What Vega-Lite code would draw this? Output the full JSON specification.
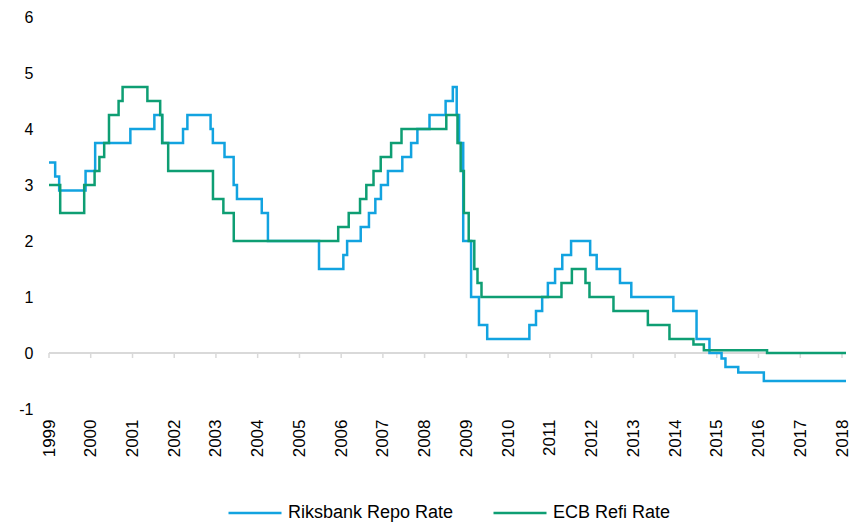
{
  "$schema": "https://vega.github.io/schema/vega-lite/v6.json",
  "autosize": {"type": "none"},
  "width": 797,
  "height": 392,
  "padding": {"left": 49, "top": 17, "right": 18, "bottom": 114},
  "background": "white",
  "config": {
    "view": {"stroke": null},
    "font": "Liberation Sans",
    "axis": {"labelFont": "Liberation Sans", "labelColor": "#000000", "grid": false, "title": null},
    "legend": {"labelFont": "Liberation Sans"}
  },
  "datasets": {
    "rates": [
      {"date": "1999-01-01", "series": "Riksbank Repo Rate", "rate": 3.40},
      {"date": "1999-02-24", "series": "Riksbank Repo Rate", "rate": 3.15},
      {"date": "1999-03-31", "series": "Riksbank Repo Rate", "rate": 2.90},
      {"date": "1999-11-17", "series": "Riksbank Repo Rate", "rate": 3.25},
      {"date": "2000-02-09", "series": "Riksbank Repo Rate", "rate": 3.75},
      {"date": "2000-12-13", "series": "Riksbank Repo Rate", "rate": 4.00},
      {"date": "2001-07-11", "series": "Riksbank Repo Rate", "rate": 4.25},
      {"date": "2001-09-17", "series": "Riksbank Repo Rate", "rate": 3.75},
      {"date": "2002-03-19", "series": "Riksbank Repo Rate", "rate": 4.00},
      {"date": "2002-04-26", "series": "Riksbank Repo Rate", "rate": 4.25},
      {"date": "2002-11-15", "series": "Riksbank Repo Rate", "rate": 4.00},
      {"date": "2002-12-05", "series": "Riksbank Repo Rate", "rate": 3.75},
      {"date": "2003-03-17", "series": "Riksbank Repo Rate", "rate": 3.50},
      {"date": "2003-06-05", "series": "Riksbank Repo Rate", "rate": 3.00},
      {"date": "2003-07-04", "series": "Riksbank Repo Rate", "rate": 2.75},
      {"date": "2004-02-06", "series": "Riksbank Repo Rate", "rate": 2.50},
      {"date": "2004-03-31", "series": "Riksbank Repo Rate", "rate": 2.00},
      {"date": "2005-06-21", "series": "Riksbank Repo Rate", "rate": 1.50},
      {"date": "2006-01-20", "series": "Riksbank Repo Rate", "rate": 1.75},
      {"date": "2006-02-22", "series": "Riksbank Repo Rate", "rate": 2.00},
      {"date": "2006-06-21", "series": "Riksbank Repo Rate", "rate": 2.25},
      {"date": "2006-09-01", "series": "Riksbank Repo Rate", "rate": 2.50},
      {"date": "2006-10-27", "series": "Riksbank Repo Rate", "rate": 2.75},
      {"date": "2006-12-15", "series": "Riksbank Repo Rate", "rate": 3.00},
      {"date": "2007-02-14", "series": "Riksbank Repo Rate", "rate": 3.25},
      {"date": "2007-06-20", "series": "Riksbank Repo Rate", "rate": 3.50},
      {"date": "2007-09-05", "series": "Riksbank Repo Rate", "rate": 3.75},
      {"date": "2007-10-30", "series": "Riksbank Repo Rate", "rate": 4.00},
      {"date": "2008-02-13", "series": "Riksbank Repo Rate", "rate": 4.25},
      {"date": "2008-07-03", "series": "Riksbank Repo Rate", "rate": 4.50},
      {"date": "2008-09-04", "series": "Riksbank Repo Rate", "rate": 4.75},
      {"date": "2008-10-08", "series": "Riksbank Repo Rate", "rate": 4.25},
      {"date": "2008-10-29", "series": "Riksbank Repo Rate", "rate": 3.75},
      {"date": "2008-12-04", "series": "Riksbank Repo Rate", "rate": 2.00},
      {"date": "2009-02-11", "series": "Riksbank Repo Rate", "rate": 1.00},
      {"date": "2009-04-21", "series": "Riksbank Repo Rate", "rate": 0.50},
      {"date": "2009-07-02", "series": "Riksbank Repo Rate", "rate": 0.25},
      {"date": "2010-07-06", "series": "Riksbank Repo Rate", "rate": 0.50},
      {"date": "2010-09-02", "series": "Riksbank Repo Rate", "rate": 0.75},
      {"date": "2010-10-26", "series": "Riksbank Repo Rate", "rate": 1.00},
      {"date": "2010-12-15", "series": "Riksbank Repo Rate", "rate": 1.25},
      {"date": "2011-02-16", "series": "Riksbank Repo Rate", "rate": 1.50},
      {"date": "2011-04-20", "series": "Riksbank Repo Rate", "rate": 1.75},
      {"date": "2011-07-06", "series": "Riksbank Repo Rate", "rate": 2.00},
      {"date": "2011-12-20", "series": "Riksbank Repo Rate", "rate": 1.75},
      {"date": "2012-02-15", "series": "Riksbank Repo Rate", "rate": 1.50},
      {"date": "2012-09-06", "series": "Riksbank Repo Rate", "rate": 1.25},
      {"date": "2012-12-14", "series": "Riksbank Repo Rate", "rate": 1.00},
      {"date": "2013-12-17", "series": "Riksbank Repo Rate", "rate": 0.75},
      {"date": "2014-07-08", "series": "Riksbank Repo Rate", "rate": 0.25},
      {"date": "2014-10-29", "series": "Riksbank Repo Rate", "rate": 0.00},
      {"date": "2015-02-12", "series": "Riksbank Repo Rate", "rate": -0.10},
      {"date": "2015-03-18", "series": "Riksbank Repo Rate", "rate": -0.25},
      {"date": "2015-07-08", "series": "Riksbank Repo Rate", "rate": -0.35},
      {"date": "2016-02-17", "series": "Riksbank Repo Rate", "rate": -0.50},
      {"date": "2018-02-05", "series": "Riksbank Repo Rate", "rate": -0.50},
      {"date": "1999-01-01", "series": "ECB Refi Rate", "rate": 3.00},
      {"date": "1999-04-09", "series": "ECB Refi Rate", "rate": 2.50},
      {"date": "1999-11-05", "series": "ECB Refi Rate", "rate": 3.00},
      {"date": "2000-02-04", "series": "ECB Refi Rate", "rate": 3.25},
      {"date": "2000-03-17", "series": "ECB Refi Rate", "rate": 3.50},
      {"date": "2000-04-28", "series": "ECB Refi Rate", "rate": 3.75},
      {"date": "2000-06-09", "series": "ECB Refi Rate", "rate": 4.25},
      {"date": "2000-09-01", "series": "ECB Refi Rate", "rate": 4.50},
      {"date": "2000-10-06", "series": "ECB Refi Rate", "rate": 4.75},
      {"date": "2001-05-11", "series": "ECB Refi Rate", "rate": 4.50},
      {"date": "2001-08-31", "series": "ECB Refi Rate", "rate": 4.25},
      {"date": "2001-09-18", "series": "ECB Refi Rate", "rate": 3.75},
      {"date": "2001-11-09", "series": "ECB Refi Rate", "rate": 3.25},
      {"date": "2002-12-06", "series": "ECB Refi Rate", "rate": 2.75},
      {"date": "2003-03-07", "series": "ECB Refi Rate", "rate": 2.50},
      {"date": "2003-06-06", "series": "ECB Refi Rate", "rate": 2.00},
      {"date": "2005-12-06", "series": "ECB Refi Rate", "rate": 2.25},
      {"date": "2006-03-08", "series": "ECB Refi Rate", "rate": 2.50},
      {"date": "2006-06-15", "series": "ECB Refi Rate", "rate": 2.75},
      {"date": "2006-08-09", "series": "ECB Refi Rate", "rate": 3.00},
      {"date": "2006-10-11", "series": "ECB Refi Rate", "rate": 3.25},
      {"date": "2006-12-13", "series": "ECB Refi Rate", "rate": 3.50},
      {"date": "2007-03-14", "series": "ECB Refi Rate", "rate": 3.75},
      {"date": "2007-06-13", "series": "ECB Refi Rate", "rate": 4.00},
      {"date": "2008-07-09", "series": "ECB Refi Rate", "rate": 4.25},
      {"date": "2008-10-15", "series": "ECB Refi Rate", "rate": 3.75},
      {"date": "2008-11-12", "series": "ECB Refi Rate", "rate": 3.25},
      {"date": "2008-12-10", "series": "ECB Refi Rate", "rate": 2.50},
      {"date": "2009-01-21", "series": "ECB Refi Rate", "rate": 2.00},
      {"date": "2009-03-11", "series": "ECB Refi Rate", "rate": 1.50},
      {"date": "2009-04-08", "series": "ECB Refi Rate", "rate": 1.25},
      {"date": "2009-05-13", "series": "ECB Refi Rate", "rate": 1.00},
      {"date": "2011-04-13", "series": "ECB Refi Rate", "rate": 1.25},
      {"date": "2011-07-13", "series": "ECB Refi Rate", "rate": 1.50},
      {"date": "2011-11-09", "series": "ECB Refi Rate", "rate": 1.25},
      {"date": "2011-12-14", "series": "ECB Refi Rate", "rate": 1.00},
      {"date": "2012-07-11", "series": "ECB Refi Rate", "rate": 0.75},
      {"date": "2013-05-08", "series": "ECB Refi Rate", "rate": 0.50},
      {"date": "2013-11-13", "series": "ECB Refi Rate", "rate": 0.25},
      {"date": "2014-06-11", "series": "ECB Refi Rate", "rate": 0.15},
      {"date": "2014-09-10", "series": "ECB Refi Rate", "rate": 0.05},
      {"date": "2016-03-16", "series": "ECB Refi Rate", "rate": 0.00},
      {"date": "2018-02-05", "series": "ECB Refi Rate", "rate": 0.00}
    ],
    "years": [
      {"date": "1999-01-01"}, {"date": "2000-01-01"}, {"date": "2001-01-01"}, {"date": "2002-01-01"},
      {"date": "2003-01-01"}, {"date": "2004-01-01"}, {"date": "2005-01-01"}, {"date": "2006-01-01"},
      {"date": "2007-01-01"}, {"date": "2008-01-01"}, {"date": "2009-01-01"}, {"date": "2010-01-01"},
      {"date": "2011-01-01"}, {"date": "2012-01-01"}, {"date": "2013-01-01"}, {"date": "2014-01-01"},
      {"date": "2015-01-01"}, {"date": "2016-01-01"}, {"date": "2017-01-01"}, {"date": "2018-01-01"}
    ]
  },
  "layer": [
    {
      "data": {"name": "years"},
      "mark": {"type": "rule", "color": "#d9d9d9", "strokeWidth": 1.5},
      "encoding": {
        "x": {"field": "date", "type": "temporal"},
        "y": {"datum": 0},
        "y2": {"datum": -0.09}
      }
    },
    {
      "data": {"name": "years"},
      "mark": {"type": "rule", "color": "#d9d9d9", "strokeWidth": 1.5},
      "encoding": {
        "y": {"datum": 0}
      }
    },
    {
      "data": {"name": "rates"},
      "mark": {"type": "line", "interpolate": "step-after", "strokeWidth": 2.5},
      "encoding": {
        "x": {
          "field": "date",
          "type": "temporal",
          "scale": {"type": "utc", "domain": [{"year": 1999, "month": 1, "date": 1, "utc": true}, {"year": 2018, "month": 2, "date": 5, "utc": true}]},
          "axis": {
            "values": [
              {"year": 1999, "month": 1, "date": 1, "utc": true}, {"year": 2000, "month": 1, "date": 1, "utc": true},
              {"year": 2001, "month": 1, "date": 1, "utc": true}, {"year": 2002, "month": 1, "date": 1, "utc": true},
              {"year": 2003, "month": 1, "date": 1, "utc": true}, {"year": 2004, "month": 1, "date": 1, "utc": true},
              {"year": 2005, "month": 1, "date": 1, "utc": true}, {"year": 2006, "month": 1, "date": 1, "utc": true},
              {"year": 2007, "month": 1, "date": 1, "utc": true}, {"year": 2008, "month": 1, "date": 1, "utc": true},
              {"year": 2009, "month": 1, "date": 1, "utc": true}, {"year": 2010, "month": 1, "date": 1, "utc": true},
              {"year": 2011, "month": 1, "date": 1, "utc": true}, {"year": 2012, "month": 1, "date": 1, "utc": true},
              {"year": 2013, "month": 1, "date": 1, "utc": true}, {"year": 2014, "month": 1, "date": 1, "utc": true},
              {"year": 2015, "month": 1, "date": 1, "utc": true}, {"year": 2016, "month": 1, "date": 1, "utc": true},
              {"year": 2017, "month": 1, "date": 1, "utc": true}, {"year": 2018, "month": 1, "date": 1, "utc": true}
            ],
            "format": "%Y",
            "labelAngle": -90,
            "labelAlign": "right",
            "labelBaseline": "middle",
            "labelPadding": 10,
            "labelFontSize": 17,
            "labelOverlap": false,
            "labelBound": false,
            "labelFlush": false,
            "domain": false,
            "ticks": false,
            "grid": false
          }
        },
        "y": {
          "field": "rate",
          "type": "quantitative",
          "scale": {"domain": [-1, 6], "nice": false, "zero": false},
          "axis": {
            "values": [-1, 0, 1, 2, 3, 4, 5, 6],
            "labelExpr": "datum.value < 0 ? '-' + abs(datum.value) : '' + datum.value",
            "labelFontSize": 16,
            "labelPadding": 16,
            "domain": false,
            "ticks": false,
            "grid": false
          }
        },
        "color": {
          "field": "series",
          "type": "nominal",
          "scale": {"domain": ["Riksbank Repo Rate", "ECB Refi Rate"], "range": ["#12A3E0", "#0E9E73"]},
          "legend": {
            "title": null,
            "orient": "none",
            "legendX": 178,
            "legendY": 468,
            "direction": "horizontal",
            "symbolType": "stroke",
            "symbolSize": 2809,
            "symbolStrokeWidth": 2.5,
            "labelFontSize": 18,
            "labelLimit": 400,
            "labelColor": "#000000",
            "labelOffset": 5,
            "columnPadding": 34
          }
        }
      }
    }
  ]
}
